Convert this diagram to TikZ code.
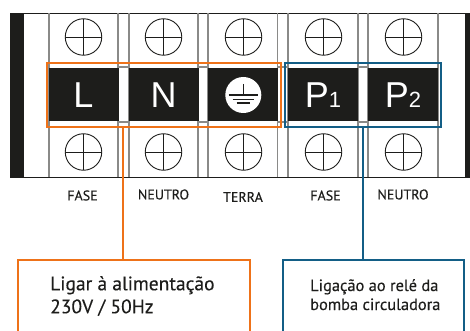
\documentclass[tikz,border=0pt]{standalone}
\usepackage{fontspec}
\setmainfont[FakeBold=0.25]{PT Sans}
\newfontfamily\platefont{Liberation Sans}
\definecolor{ink}{HTML}{1D1D1B}
\definecolor{frameorange}{HTML}{EE7219}
\definecolor{frameblue}{HTML}{135E86}
\definecolor{cellgray}{HTML}{8A8A88}
\tikzset{
  cell/.style={draw=cellgray,line width=1.2pt,fill=none},
  screw/.style={circle,draw=ink,line width=0.9pt,minimum size=36.5pt,inner sep=0pt,
    path picture={\draw[ink,line width=0.9pt]
      (path picture bounding box.north)--(path picture bounding box.south)
      (path picture bounding box.west)--(path picture bounding box.east);}},
  plate/.style={fill=ink,text=white,minimum height=53pt,inner sep=0pt,font=\platefont\fontsize{36}{38}\selectfont},
  lab/.style={text=ink,inner sep=0pt,font=\fontsize{14}{16}\selectfont},
  frameo/.style={draw=frameorange,line width=2pt,inner sep=0pt},
  frameb/.style={draw=frameblue,line width=2pt,inner sep=0pt},
  note/.style={text=ink,inner sep=0pt,anchor=north west,align=left},
}
\begin{document}
\begin{tikzpicture}[x=1pt,y=-1pt]
\useasboundingbox (0,0) rectangle (470,331);
\clip (0,0) rectangle (470,331);
% body
\fill[ink] (10,13) rectangle (24,177);
\fill[ink] (465,13) rectangle (470,177);
\draw[ink,line width=0.8pt] (10,13.2)--(470,13.2) (10,177.2)--(470,177.2);
% terminal cells
\foreach \a/\b in {49/118,129/198,208/277.5,288/358,368/438}{
  \draw[cell] (\a,13)--(\a,177) (\b,13)--(\b,177);
}
\foreach \a/\b in {118/129,198/208,277.5/288,358/368}{
  \draw[cell] (\a,67)--(\b,67) (\a,122)--(\b,122);
}
% screws
\foreach \n/\x in {1/83.5,2/163.5,3/243.5,4/323.5,5/403.5}{
  \node[screw] (st\n) at (\x,37) {};
  \node[screw] (sb\n) at (\x,152) {};
}
% plates
\node[plate,minimum width=70pt] (pl) at (83.5,95) {L};
\node[plate,minimum width=70pt] (pn) at (163.5,95) {N};
\node[plate,minimum width=70pt] (pe) at (243,95) {};
\node[plate,minimum width=70pt] (pa) at (323,95) {P{\fontsize{22}{24}\selectfont 1}};
\node[plate,minimum width=70pt] (pb) at (403,95) {P{\fontsize{22}{24}\selectfont 2}};
% earth symbol
\node[circle,fill=white,minimum size=36pt,inner sep=0pt] (earth) at (243.3,95) {};
\draw[ink,line width=1.1pt] (243.3,84)--(243.3,95) (228.5,95)--(258,95) (232.5,99.5)--(254,99.5) (236.5,103)--(250,103);
% labels
\node[lab] (l1) at (82.5,195.5) {FASE};
\node[lab] (l2) at (163.5,194.5) {NEUTRO};
\node[lab] (l3) at (243,197) {TERRA};
\node[lab] (l4) at (325.5,195.5) {FASE};
\node[lab] (l5) at (403,194.5) {NEUTRO};
% frames
\node[frameo,minimum width=234pt,minimum height=64pt] (fo) at (163.5,95) {};
\node[frameb,minimum width=156pt,minimum height=64pt] (fb) at (363,95) {};
% note boxes
\node[frameo,anchor=north west,minimum width=232pt,minimum height=90pt] (bo) at (17,259) {};
\node[frameb,anchor=north west,minimum width=181pt,minimum height=90pt] (bb) at (282,259) {};
\node[note,font=\fontsize{19.5}{23}\selectfont] (to) at (50,276) {Ligar à alimentação\\230V / 50Hz};
\node[note,font=\fontsize{16.4}{19}\selectfont] (tb) at (310,279) {Ligação ao relé da\\bomba circuladora};
% connectors
\coordinate (jo) at (123,200);
\coordinate (jb) at (363,200);
\draw[frameorange,line width=2pt] (jo |- fo.south) -- (jo |- bo.north);
\draw[frameblue,line width=2pt] (jb |- fb.south) -- (jb |- bb.north);
\end{tikzpicture}
\end{document}
